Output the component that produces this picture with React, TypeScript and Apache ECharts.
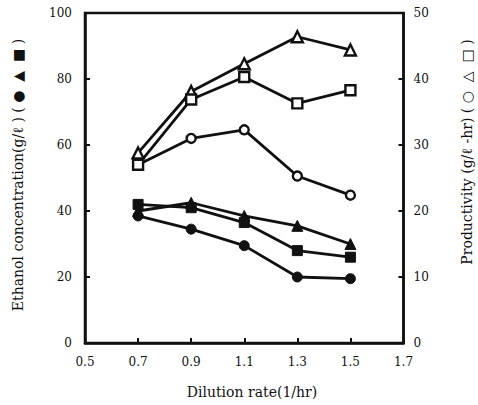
import React, { useEffect, useRef } from "react";
import * as echarts from "echarts";

// X axis tick labels (dilution rate, 1/hr)
const xTickLabels = ["0.5", "0.7", "0.9", "1.1", "1.3", "1.5", "1.7"];
// Sampled dilution rates
const dilution = ["0.7", "0.9", "1.1", "1.3", "1.5"];
// Ethanol concentration (g/ℓ), left axis
const ethanolCircle = [38.5, 34.5, 29.5, 20, 19.5];
const ethanolTriangle = [40, 42.5, 38.5, 35.5, 30];
const ethanolSquare = [42, 41, 36.5, 28, 26];
// Productivity (g/ℓ-hr), right axis
const prodCircle = [27, 31, 32.3, 25.3, 22.4];
const prodTriangle = [28.8, 38.1, 42.3, 46.4, 44.4];
const prodSquare = [27, 36.9, 40.3, 36.3, 38.3];

const FONT = "DejaVu Serif";
const INK = "#111";

function pairs(vals: number[]) {
  return dilution.map((x, i) => [x, vals[i]]);
}

function lineSeries(
  name: string,
  vals: number[],
  symbol: string,
  filled: boolean,
  yAxisIndex: number,
  size: number
) {
  return {
    name,
    type: "line",
    yAxisIndex,
    data: pairs(vals),
    symbol,
    symbolSize: size,
    showSymbol: true,
    lineStyle: { color: INK, width: 2.8 },
    itemStyle: filled
      ? { color: INK, borderColor: INK, borderWidth: 1 }
      : { color: "#fff", borderColor: INK, borderWidth: 2.4 },
    z: filled ? 3 : 4,
  };
}

export default function App() {
  const ref = useRef<HTMLDivElement>(null);
  useEffect(() => {
    if (!ref.current) return;
    const chart = echarts.init(ref.current, null, { renderer: "svg" });
    const tickStyle = { show: true, inside: true, length: 5, lineStyle: { color: INK, width: 2 } };
    const axisLine = { show: true, lineStyle: { color: INK, width: 2.5 } };
    chart.setOption({
      animation: false,
      backgroundColor: "#fff",
      grid: {
        left: 85,
        right: 74.5,
        top: 13,
        bottom: 62,
        show: true,
        borderColor: INK,
        borderWidth: 2.5,
        backgroundColor: "transparent",
      },
      xAxis: {
        type: "category",
        data: xTickLabels,
        boundaryGap: false,
        axisLine,
        axisTick: { ...tickStyle, alignWithLabel: true },
        axisLabel: { color: INK, fontFamily: FONT, fontSize: 12, margin: 13 },
        splitLine: { show: false },
      },
      yAxis: [
        {
          type: "value",
          min: 0,
          max: 100,
          interval: 20,
          position: "left",
          axisLine,
          axisTick: tickStyle,
          axisLabel: { color: INK, fontFamily: FONT, fontSize: 12, margin: 13 },
          splitLine: { show: false },
        },
        {
          type: "value",
          min: 0,
          max: 50,
          interval: 10,
          position: "right",
          axisLine,
          axisTick: tickStyle,
          axisLabel: { color: INK, fontFamily: FONT, fontSize: 12, margin: 10 },
          splitLine: { show: false },
        },
      ],
      graphic: [
        {
          type: "text",
          x: 18,
          y: 175,
          rotation: Math.PI / 2,
          style: {
            text: "Ethanol concentration(g/ℓ ) ( ●  ▲  ■ )",
            font: `14px "${FONT}"`,
            fill: INK,
            textAlign: "center",
            textVerticalAlign: "middle",
          },
        },
        {
          type: "text",
          x: 467,
          y: 152,
          rotation: Math.PI / 2,
          style: {
            text: "Productivity (g/ℓ -hr) ( ○  △  □ )",
            font: `14px "${FONT}"`,
            fill: INK,
            textAlign: "center",
            textVerticalAlign: "middle",
          },
        },
        {
          type: "text",
          x: 252,
          y: 392,
          style: {
            text: "Dilution rate(1/hr)",
            font: `14px "${FONT}"`,
            fill: INK,
            textAlign: "center",
            textVerticalAlign: "middle",
          },
        },
      ],
      series: [
        lineSeries("Ethanol ●", ethanolCircle, "circle", true, 0, 10),
        lineSeries("Ethanol ▲", ethanolTriangle, "triangle", true, 0, 11),
        lineSeries("Ethanol ■", ethanolSquare, "rect", true, 0, 10),
        lineSeries("Productivity ○", prodCircle, "circle", false, 1, 9),
        lineSeries("Productivity △", prodTriangle, "triangle", false, 1, 11),
        lineSeries("Productivity □", prodSquare, "rect", false, 1, 10),
      ],
    });
    return () => chart.dispose();
  }, []);
  return (
    <div
      ref={ref}
      style={{ position: "fixed", left: 0, top: 0, width: 478, height: 405 }}
    />
  );
}
